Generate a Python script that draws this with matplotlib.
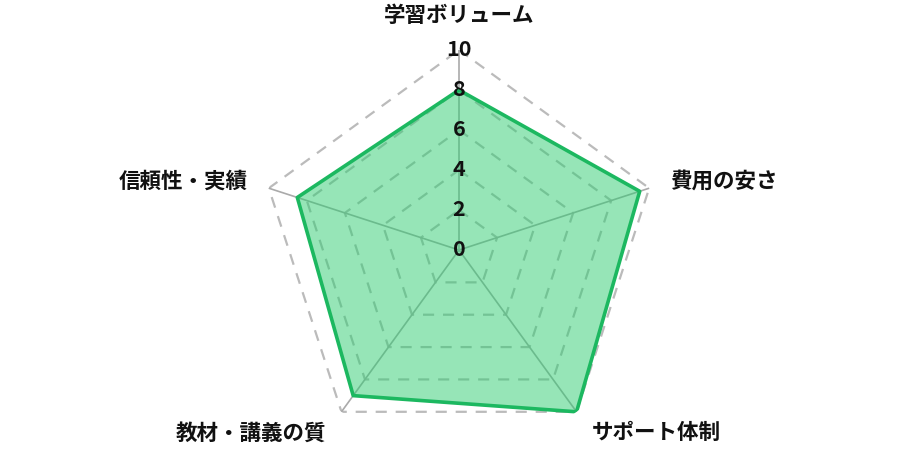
import numpy as np
import matplotlib
matplotlib.use("Agg")
import matplotlib.pyplot as plt

plt.rcParams['font.family'] = ['Noto Sans CJK JP', 'DejaVu Sans']

categories = ['学習ボリューム', '費用の安さ', 'サポート体制', '教材・講義の質', '信頼性・実績']
values = [8, 9.5, 10, 9, 8.5]
ticks = [0, 2, 4, 6, 8, 10]
tick_labels = ['0', '2', '4', '6', '8', '10']

n = len(categories)
angles = np.linspace(0, 2 * np.pi, n, endpoint=False)
closed = np.concatenate([angles, angles[:1]])

fig = plt.figure(figsize=(9, 4.5), dpi=100)
ax = fig.add_axes([259/900, 0.0, 400/900, 400/450], projection='polar')
ax.set_theta_offset(np.pi / 2)
ax.set_theta_direction(-1)
ax.set_ylim(0, 10)
ax.grid(False)
ax.spines['polar'].set_visible(False)
ax.set_xticks([])
ax.set_yticks([])
ax.patch.set_alpha(0)

# grid polygons
for t in ticks[1:]:
    ax.plot(closed, [t] * (n + 1), color='#bbbbbb', lw=1.6, ls=(0, (5, 4)), zorder=1)
# radial lines
for a in angles:
    ax.plot([a, a], [0, 10], color='#aaaaaa', lw=1.2, zorder=1)

vals = values + values[:1]
ax.fill(closed, vals, color='#2ecc71', alpha=0.5, zorder=2, lw=0)
ax.plot(closed, vals, color='#1cb860', lw=2.6, zorder=3)

for t, lab in zip(ticks, tick_labels):
    ax.text(0, t, lab, ha='center', va='center', fontsize=15.5, fontweight='bold',
            color='#111111', zorder=5)

label_pos = [
    dict(ha='center', va='center', r=11.75),
    dict(ha='left', va='center', r=11.1),
    dict(ha='left', va='center', r=11.3),
    dict(ha='right', va='center', r=11.3),
    dict(ha='right', va='center', r=11.1),
]
for a, c, p in zip(angles, categories, label_pos):
    ax.text(a, p['r'], c, ha=p['ha'], va=p['va'], fontsize=15.5, fontweight='bold',
            color='#111111', clip_on=False)

fig.savefig('out.png', dpi=100)
